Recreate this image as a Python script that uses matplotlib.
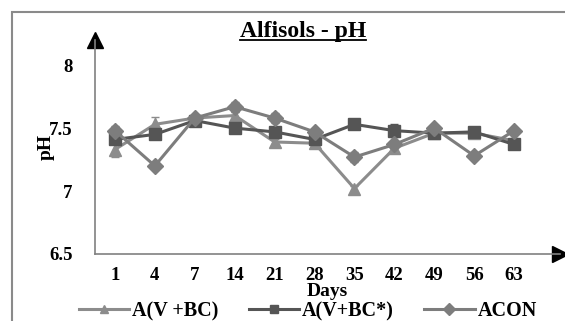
import matplotlib.pyplot as plt
from matplotlib.patches import Rectangle
from matplotlib.lines import Line2D
import numpy as np

days = ['1', '4', '7', '14', '21', '28', '35', '42', '49', '56', '63']
a_vbc = [7.33, 7.53, 7.58, 7.60, 7.39, 7.38, 7.02, 7.34, 7.46, 7.46, 7.40]
a_vbc_err = [0.06, 0.06, 0.02, 0.03, 0.02, 0.02, 0.02, 0.03, 0.02, 0.02, 0.02]
a_vbcs = [7.41, 7.45, 7.56, 7.50, 7.47, 7.41, 7.53, 7.48, 7.46, 7.47, 7.37]
a_vbcs_err = [0.02, 0.03, 0.02, 0.02, 0.03, 0.02, 0.02, 0.05, 0.02, 0.02, 0.02]
acon = [7.48, 7.20, 7.58, 7.67, 7.58, 7.47, 7.27, 7.37, 7.50, 7.28, 7.48]
acon_err = [0.04, 0.02, 0.02, 0.04, 0.04, 0.02, 0.04, 0.02, 0.02, 0.02, 0.02]
yticks = [6.5, 7, 7.5, 8]
ytick_labels = ['6.5', '7', '7.5', '8']

plt.rcParams['font.family'] = ['Liberation Serif', 'DejaVu Serif']
plt.rcParams['font.weight'] = 'bold'

fig = plt.figure(figsize=(5.65, 3.21), dpi=100)
fig.patches.append(Rectangle((12/565, -0.1), 1.2, 1 - 12/321 + 0.1, transform=fig.transFigure,
                             fill=False, edgecolor='#8a8a8a', linewidth=1.5))

ax = fig.add_axes([95/565, 67/321, 465/565, 214/321])
x = np.arange(len(days))

styles = [('A(V +BC)', a_vbc, a_vbc_err, '#8c8c8c', '^'),
          ('A(V+BC*)', a_vbcs, a_vbcs_err, '#555555', 's'),
          ('ACON', acon, acon_err, '#7d7d7d', 'D')]
handles = []
for name, vals, err, col, mk in styles:
    ax.errorbar(x, vals, yerr=err, color=col, marker=mk, markersize=8, linewidth=2.2,
                capsize=3, elinewidth=1)
    handles.append(Line2D([], [], color=col, marker=mk, markersize=6, linewidth=2.2, label=name))

ax.set_xlim(-0.5, 11.15)
ax.set_ylim(6.5, 8.2)
ax.set_xticks(x)
ax.set_xticklabels(days)
ax.set_yticks(yticks)
ax.set_yticklabels(ytick_labels)
ax.tick_params(length=0, labelsize=13.5)
ax.tick_params(axis='y', pad=16)
ax.tick_params(axis='x', pad=9)
for s in ['top', 'right']:
    ax.spines[s].set_visible(False)
for s in ['left', 'bottom']:
    ax.spines[s].set_color('#808080')
    ax.spines[s].set_linewidth(1.2)

# axis arrows
ax.plot(0, 1, marker='^', color='black', markersize=11, transform=ax.transAxes, clip_on=False)
ax.plot(1, 0, marker='>', color='black', markersize=11, transform=ax.transAxes, clip_on=False)

ax.set_ylabel('pH', fontsize=14, fontweight='bold', labelpad=-4)
ax.set_xlabel('Days', fontsize=14, fontweight='bold', labelpad=0)

t = fig.text(303/565, 1 - 31/321, 'Alfisols - pH', ha='center', va='center',
             fontsize=17, fontweight='bold')
fig.canvas.draw()
bb = t.get_window_extent().transformed(fig.transFigure.inverted())
fig.add_artist(plt.Line2D([bb.x0, bb.x1], [bb.y0 + 0.006, bb.y0 + 0.006], color='black',
                          linewidth=1.3, transform=fig.transFigure))

fig.legend(handles=handles, loc='center', bbox_to_anchor=(0.545, 1 - 311/321), ncol=3,
           frameon=False, fontsize=14.5, handlelength=2.5, columnspacing=1.5, handletextpad=0.15)

fig.savefig('out.png', dpi=100)
